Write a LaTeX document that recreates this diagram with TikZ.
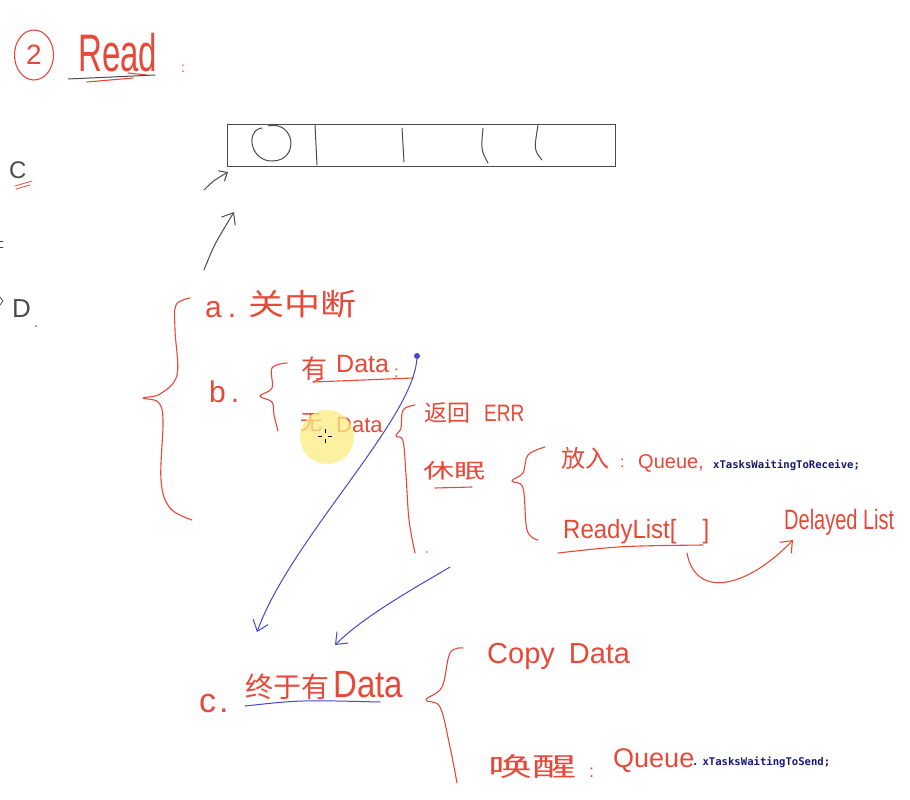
\documentclass[tikz,border=0pt]{standalone}
\usepackage{fontspec}
\usepackage{graphicx}
\setmainfont{Liberation Sans}
\newfontfamily\cjk{Noto Sans CJK SC}
\newfontfamily\codefont{DejaVu Sans Mono}
\usetikzlibrary{arrows.meta,shapes.geometric}
\definecolor{ink}{RGB}{232,72,56}
\definecolor{pen}{RGB}{72,72,205}
\definecolor{codecol}{RGB}{25,25,115}
\definecolor{pencil}{RGB}{75,75,75}
\definecolor{hl}{RGB}{252,236,130}
\newcommand\fs[1]{\fontsize{#1}{#1}\selectfont}
\begin{document}
\begin{tikzpicture}[x=1pt,y=-1pt,
  red stroke/.style={draw=ink, line width=1.1pt, line cap=round, line join=round},
  blue stroke/.style={draw=pen, line width=1pt, line cap=round},
  dark stroke/.style={draw=pencil, line width=1pt, line cap=round},
  hand/.style={inner sep=0pt, anchor=base west, text=ink},
  codetext/.style={inner sep=0pt, anchor=base west, text=codecol, font=\codefont\bfseries\fs{10.6}},
  smallbarb/.style={-{Straight Barb[length=7pt,width=12pt]}},
  bigbarb/.style={-{Straight Barb[length=10pt,width=16pt]}},
]
\useasboundingbox[fill=white] (0,0) rectangle (910,800);

% title
\node[ellipse, draw=ink, line width=1.1pt, minimum width=39pt, minimum height=50pt, inner sep=0pt, text=ink, font=\fs{28}] (num) at (34,55) {2};
\node[hand] (read) at (78,71) {\scalebox{1}[1.6]{\fs{33}Read}};
\draw[dark stroke] (68,79) -- (155,75);
\draw[red stroke] (87,82) -- (133,78);
\draw[red stroke] (128,73) -- (147,75);
\node[hand, font=\fs{14}] (colon0) at (181,72) {:};

% left margin fragments
\node[inner sep=0pt, anchor=base west, text=pencil, font=\fs{24}] (cC) at (9,178) {C};
\draw[red stroke, line width=0.8pt] (15,186) -- (32,181);
\draw[red stroke, line width=0.8pt] (16,189) -- (30,185);
\draw[dark stroke, line width=0.8pt] (0,241) -- (3,241);
\draw[dark stroke, line width=0.8pt] (0,247) -- (3,247);
\node[inner sep=0pt, anchor=base west, text=pencil, font=\fs{26}] (cD) at (12,317) {D};
\draw[dark stroke, line width=0.8pt] (0,297) -- (3,301) -- (0,305);
\fill[pencil] (36,326) circle (0.8);

% queue
\node[draw=pencil, line width=1pt, minimum width=388pt, minimum height=42pt, inner sep=0pt] (queue) at (421,145) {};
\draw[dark stroke] (315,125) -- (317,165);
\draw[dark stroke] (402,128) -- (404,162);
\draw[dark stroke] (483,128) .. controls (481,150) .. (488,163);
\draw[dark stroke] (538,125) .. controls (534,150) .. (542,160);
\draw[dark stroke] (268,126) .. controls (295,120) and (300,160) .. (273,161) .. controls (250,162) and (245,130) .. (262,128);

% black arrows towards the queue
\coordinate (a1s) at (204,190);
\coordinate (a1e) at (228,172);
\coordinate (a2s) at (204,270);
\coordinate (a2e) at (234,212);
\draw[dark stroke, smallbarb] (a1s) .. controls (213,181) .. (a1e);
\draw[dark stroke, bigbarb] (a2s) .. controls (214,245) .. (a2e);

% big brace
\draw[red stroke] plot[smooth, tension=0.6] coordinates {(190,298) (176,305) (175,330) (177,375) (160,394) (143,398) (158,402) (163,420) (161,480) (170,508) (192,520)};

% a.
\node[hand, font=\fs{30}] (la) at (205,317) {a\hspace{6pt}.};
\node[hand, font=\cjk\fs{30}] (ta) at (248,315) {\scalebox{1.2}[1]{关中断}};

% b.
\node[hand, font=\fs{30}] (lb) at (209,402) {b\hspace{5pt}.};
\draw[red stroke] plot[smooth, tension=0.6] coordinates {(287,363) (272,368) (272,388) (260,396) (272,402) (274,415) (278,431)};

\node[hand, font=\cjk\fs{26}] (you) at (301,378) {有};
\node[hand, font=\fs{25}] (d1) at (336,372) {Data};
\node[hand, font=\fs{16}] (colon1) at (394,377) {:};
\draw[red stroke] (313,382) -- (413,378);
\draw[red stroke] (313,382) -- (323,378);

\node[hand, font=\cjk\fs{22}] (wu) at (300,430) {无};
\node[hand, font=\fs{22}] (d2) at (336,432) {Data};

% brace 2
\draw[red stroke] plot[smooth, tension=0.6] coordinates {(415,405) (403,410) (401,428) (396,436) (403,441) (406,475) (409,520) (415,553)};
\fill[ink] (427,552) circle (0.9);

\node[hand, font=\cjk\fs{23}] (fh) at (424,421) {返回};
\node[hand, font=\fs{19}] (err) at (484,421) {\scalebox{1}[1.25]{ERR}};
\node[hand, font=\cjk\fs{24}] (xm) at (423,478) {\scalebox{1.3}[0.85]{休眠}};
\draw[red stroke] (435,488) -- (472,487);

% brace 3
\draw[red stroke] plot[smooth, tension=0.6] coordinates {(545,447) (528,455) (523,473) (512,481) (523,488) (527,530) (538,540)};

\node[hand, font=\cjk\fs{24}] (fr) at (561,467) {放入};
\node[hand, font=\fs{16}] (colon2) at (620,467) {:};
\node[hand, font=\fs{20}] (q1) at (638,468) {Queue,};
\node[codetext] (code1) at (713,468) {xTasksWaitingToReceive;};

\node[hand, font=\fs{24}] (rl) at (563,538) {\scalebox{1}[1.1]{ReadyList[\hspace{26pt}]}};
\draw[red stroke] (558,553) .. controls (620,546) .. (703,545);
\node[hand, font=\fs{20}] (dl) at (784,529) {\scalebox{1}[1.4]{Delayed List}};
\coordinate (rlc) at (687,553);
\coordinate (dlt) at (793,540);
\draw[red stroke, bigbarb] (rlc) .. controls (695,598) and (745,590) .. (dlt);

% c.
\node[hand, font=\fs{34}] (lc) at (199,712) {c\hspace{3pt}.};
\node[hand, font=\cjk\fs{28}] (zy) at (245,697) {终于有};
\node[hand, font=\fs{33}] (d3) at (333,697) {\scalebox{1}[1.15]{Data}};
\draw[blue stroke] (245,706) .. controls (300,700) .. (380,702);

% brace 4
\draw[red stroke] plot[smooth, tension=0.6] coordinates {(463,648) (450,653) (442,687) (426,700) (440,707) (450,747) (457,783)};

\node[hand, font=\fs{29}] (cp) at (487,663) {Copy\hspace{14pt}Data};
\node[hand, font=\cjk\fs{26}] (hx) at (488,776) {\scalebox{1.7}[1]{唤醒}};
\node[hand, font=\fs{18}] (colon3) at (589,777) {:};
\node[hand, font=\fs{27}] (q2) at (613,767) {Queue};
\node[codetext] (code2) at (692,765) {.\hspace{4pt}xTasksWaitingToSend;};

% blue arrows
\node[circle, fill=pen, inner sep=0pt, minimum size=6pt] (bdot) at (417,356) {};
\coordinate (t1) at (257,632);
\draw[blue stroke, bigbarb] (bdot) .. controls (413,420) and (290,540) .. (t1);
\coordinate (s2) at (450,567);
\coordinate (t2) at (335,645);
\draw[blue stroke, bigbarb] (s2) .. controls (420,585) and (365,615) .. (t2);

% highlight and cursor
\fill[hl, opacity=0.75] (327,437) circle (27);
\draw[black, line width=0.8pt] (318,436) -- (322,436) (328,436) -- (332,436) (325,429) -- (325,433) (325,439) -- (325,443);
\end{tikzpicture}
\end{document}
